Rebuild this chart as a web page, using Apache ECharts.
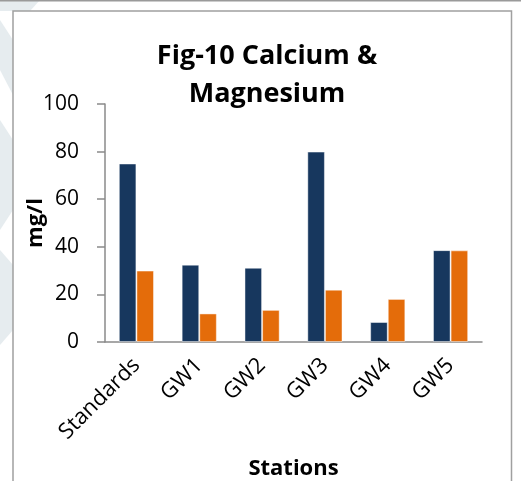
<!DOCTYPE html>
<html>
<head>
<meta charset="utf-8">
<script src="https://cdn.jsdelivr.net/npm/echarts@6/dist/echarts.min.js"></script>
<style>
  html, body { margin: 0; padding: 0; background: #ffffff; }
  #chart { width: 521px; height: 481px; }
</style>
</head>
<body>
<div id="chart"></div>
<script>
// Stations along the x axis
const stations = ['Standards', 'GW1', 'GW2', 'GW3', 'GW4', 'GW5'];
// Concentrations in mg/l
const calcium = [75, 32.5, 31.2, 80, 8.4, 38.6];
const magnesium = [30, 12, 13.5, 22, 18.1, 38.5];
// Value axis ticks
const yTicks = { min: 0, max: 100, interval: 20 };

const FONT = '"Open Sans", "DejaVu Sans", sans-serif';
const chart = echarts.init(document.getElementById('chart'), null, { renderer: 'canvas' });

const axisGray = '#8a8a8a';

chart.setOption({
  animation: false,
  backgroundColor: '#ffffff',
  graphic: [
    // faint page decoration on the left edge
    { type: 'polygon', silent: true, z: -10,
      shape: { points: [[0, 20], [13, 40], [13, 95], [0, 70]] },
      style: { fill: '#e6ecef' } },
    { type: 'polygon', silent: true, z: -10,
      shape: { points: [[0, 120], [13, 140], [13, 210], [0, 230]] },
      style: { fill: '#e6ecef' } },
    { type: 'polygon', silent: true, z: -10,
      shape: { points: [[0, 250], [13, 265], [13, 330], [0, 345]] },
      style: { fill: '#e6ecef' } },
    { type: 'polygon', silent: true, z: -10,
      shape: { points: [[0, 0], [40, 0], [30, 11], [0, 11]] },
      style: { fill: '#e6ecef' } },
    // top rule of the page
    { type: 'line', silent: true, z: 10,
      shape: { x1: 0, y1: 0.5, x2: 521, y2: 0.5 },
      style: { stroke: '#9a9a9a', lineWidth: 2 } },
    // chart frame (open at the bottom)
    { type: 'polyline', silent: true, z: 10,
      shape: { points: [[13, 481], [13, 11], [511.5, 11], [511.5, 481]] },
      style: { stroke: '#a0a0a0', lineWidth: 1.5, fill: null } },
    { type: 'rect', silent: true, z: -5,
      shape: { x: 13, y: 11, width: 498, height: 470 },
      style: { fill: '#ffffff' } }
  ],
  title: {
    text: 'Fig-10 Calcium &\nMagnesium',
    left: 262, textAlign: 'center',
    top: 32,
    textStyle: { fontFamily: FONT, fontWeight: 'bold', fontSize: 27, lineHeight: 38, color: '#000' }
  },
  grid: { left: 105, right: 39, top: 104, bottom: 138, containLabel: false },
  xAxis: {
    type: 'category',
    data: stations,
    name: 'Stations',
    nameLocation: 'middle',
    nameGap: 116,
    nameTextStyle: { fontFamily: FONT, fontWeight: 'bold', fontSize: 22, color: '#000' },
    axisLine: { show: true, lineStyle: { color: axisGray, width: 1.5 } },
    axisTick: { show: false },
    axisLabel: { rotate: 45, margin: 20, fontFamily: FONT, fontSize: 22, color: '#000' },
    splitLine: { show: false }
  },
  yAxis: {
    type: 'value',
    min: yTicks.min, max: yTicks.max, interval: yTicks.interval,
    name: 'mg/l',
    nameLocation: 'middle',
    nameGap: 58,
    nameRotate: 90,
    nameMoveOverlap: false,
    nameTextStyle: { fontFamily: FONT, fontWeight: 'bold', fontSize: 22, color: '#000' },
    axisLine: { show: true, lineStyle: { color: axisGray, width: 1.5 } },
    axisTick: { show: true, inside: false, length: 8, lineStyle: { color: axisGray, width: 1.5 } },
    axisLabel: { margin: 26, fontFamily: FONT, fontSize: 21, color: '#000' },
    splitLine: { show: false }
  },
  series: [
    {
      name: 'Calcium', type: 'bar', data: calcium,
      barCategoryGap: '44%', barGap: '0%',
      itemStyle: { color: '#17375e', borderColor: 'rgba(255,255,255,0.45)', borderWidth: 1 }
    },
    {
      name: 'Magnesium', type: 'bar', data: magnesium,
      barCategoryGap: '44%', barGap: '0%',
      itemStyle: { color: '#e46c0a', borderColor: 'rgba(255,255,255,0.45)', borderWidth: 1 }
    }
  ]
});
</script>
</body>
</html>
